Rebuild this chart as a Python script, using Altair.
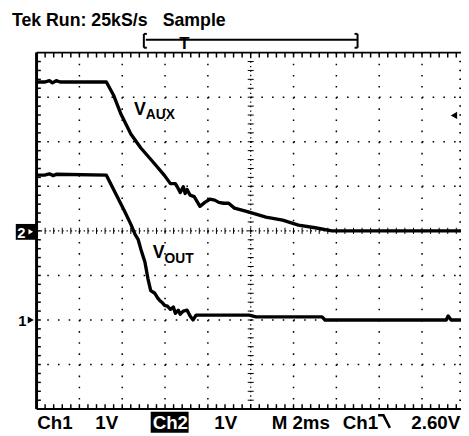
import altair as alt
import pandas as pd
import numpy as np

# ---- data (time in ms, 2 ms/div; volts, 1 V/div) ----
vaux_t = [0, 0.37, 0.60, 0.74, 0.92, 1.10, 3.26, 3.59, 3.95, 4.41, 4.87, 5.52, 5.98, 6.25, 6.48, 6.57,
          6.71, 6.85, 6.94, 7.03, 7.17, 7.36, 7.63, 7.86, 8.09, 8.32, 8.51, 8.74, 8.97, 9.24, 9.93,
          10.71, 11.49, 12.23, 13.01, 13.79, 19.82]
vaux_v = [3.34, 3.34, 3.37, 3.32, 3.37, 3.34, 3.34, 3.05, 2.61, 2.17, 1.86, 1.50, 1.24, 1.06, 1.06, 0.99,
          0.86, 0.99, 0.84, 0.93, 0.80, 0.77, 0.55, 0.64, 0.71, 0.69, 0.64, 0.62, 0.62, 0.51, 0.42,
          0.31, 0.24, 0.13, 0.07, 0.0, 0.0]
vout_t = [0, 0.37, 0.60, 0.78, 0.92, 3.26, 3.68, 4.14, 4.41, 4.60, 4.74, 4.87, 5.06, 5.20, 5.33,
          5.52, 5.66, 5.75, 5.89, 5.98, 6.11, 6.25, 6.39, 6.48, 6.62, 6.71, 6.85, 7.03, 7.17, 7.31,
          7.45, 9.93, 10.25, 13.33, 13.47, 19.13, 19.22, 19.36, 19.82]
vout_v = [3.25, 3.25, 3.28, 3.24, 3.27, 3.25, 2.85, 2.41, 2.14, 1.92, 1.81, 1.59, 1.30, 0.93, 0.66,
          0.60, 0.49, 0.44, 0.38, 0.33, 0.31, 0.24, 0.29, 0.15, 0.22, 0.13, 0.20, 0.22, 0.09, 0.0,
          0.11, 0.11, 0.07, 0.07, 0.0, 0.0, 0.09, 0.0, 0.0]
CH1_OFFSET = -2.0   # Ch1 ground marker (divisions)
CH2_OFFSET = 0.0    # Ch2 ground marker (divisions)

XMAX = 19.82
XS = alt.Scale(domain=[0, XMAX], nice=False, zero=False)
YS = alt.Scale(domain=[-4, 4], nice=False, zero=False)
FONT = "Liberation Sans"

traces = pd.concat([
    pd.DataFrame({"series": "VAUX", "t": vaux_t, "y": np.array(vaux_v) + CH2_OFFSET}),
    pd.DataFrame({"series": "VOUT", "t": vout_t, "y": np.array(vout_v) + CH1_OFFSET}),
])


def rules(df, **kw):
    return alt.Chart(df).mark_rule(color="black", **kw).encode(
        x=alt.X("x:Q", scale=XS, axis=None), x2="x2:Q",
        y=alt.Y("y:Q", scale=YS, axis=None), y2="y2:Q")


def seg(rows):
    return pd.DataFrame(rows, columns=["x", "x2", "y", "y2"])


# grid
gx = [2, 4, 6, 8, 12, 14, 16, 18]
gy = [3, 2, 1, -1, -2, -3]
grid_v = rules(seg([[g, g, 4, -4] for g in gx]), strokeDash=[1.6, 9.71], strokeWidth=1.5)
grid_h = rules(seg([[0, XMAX, g, g] for g in gy]), strokeDash=[1.6, 9.27], strokeWidth=1.5)
center_v = rules(seg([[10, 10, 4, -4]]), strokeDash=[1.3, 3.22], strokeWidth=1.3)
center_h = rules(seg([[0, XMAX, 0, 0]]), strokeDash=[1.3, 3.05], strokeWidth=1.3)
minor_x = np.arange(0.4, XMAX, 0.4)
minor_y = np.arange(-3.8, 4.0, 0.2)
center_ticks = rules(seg([[m, m, 0.07, -0.07] for m in minor_x] +
                         [[10 - 0.14, 10 + 0.14, m, m] for m in minor_y]), strokeWidth=1)
border = rules(seg([[0, 0, 4, -4]]), strokeWidth=3)
border_tb = rules(seg([[0, XMAX, 4, 4], [0, XMAX, -4, -4]]), strokeWidth=2)
border_ticks = rules(seg([[0, 0.2, m, m] for m in minor_y] +
                         [[m, m, 4, 3.89] for m in minor_x] +
                         [[m, m, -4, -3.89] for m in minor_x] +
                         [[19.74, XMAX, m, m] for m in minor_y]), strokeWidth=1.5)

lines = alt.Chart(traces).mark_line(color="black", strokeWidth=3.4, strokeJoin="round").encode(
    x=alt.X("t:Q", scale=XS, axis=None), y=alt.Y("y:Q", scale=YS, axis=None), detail="series:N")

# bracket on top
bracket = rules(seg([[5.10, 14.99, 4.29, 4.29],
                     [5.01, 5.01, 4.42, 4.11], [14.99, 14.99, 4.42, 4.11],
                     [5.01, 5.15, 4.42, 4.42], [5.01, 5.15, 4.11, 4.11],
                     [14.85, 14.99, 4.42, 4.42], [14.85, 14.99, 4.11, 4.11]]),
                strokeWidth=2)

# black boxes
boxes = alt.Chart(pd.DataFrame({"x": [-0.97, 5.33], "x2": [0, 7.10],
                                "y": [0.155, -4.06], "y2": [-0.2, -4.53]})).mark_rect(color="black").encode(
    x=alt.X("x:Q", scale=XS, axis=None), x2="x2:Q",
    y=alt.Y("y:Q", scale=YS, axis=None), y2="y2:Q")

labels = pd.DataFrame([
    ["Tek Run: 25kS/s", -1.15, 4.60, 18, "black"],
    ["Sample", 5.89, 4.60, 18, "black"],
    ["T", 6.66, 4.08, 17, "black"],
    ["Ch1", 0.03, -4.44, 19, "black"],
    ["1V", 2.74, -4.44, 19, "black"],
    ["Ch2", 5.42, -4.44, 19, "white"],
    ["1V", 8.30, -4.44, 19, "black"],
    ["M 2ms", 10.98, -4.44, 19, "black"],
    ["Ch1", 14.30, -4.44, 19, "black"],
    ["2.60V", 17.50, -4.44, 19, "black"],
    ["V", 4.55, 2.61, 18, "black"],
    ["AUX", 5.10, 2.50, 14, "black"],
    ["V", 5.43, -0.62, 18, "black"],
    ["OUT", 5.98, -0.73, 14, "black"],
    ["2", -0.90, -0.16, 15, "white"],
    ["1", -0.86, -2.14, 15, "black"],
], columns=["text", "x", "y", "size", "color"])

texts = alt.Chart(labels).mark_text(align="left", baseline="alphabetic", font=FONT,
                                    fontWeight="bold").encode(
    x=alt.X("x:Q", scale=XS, axis=None), y=alt.Y("y:Q", scale=YS, axis=None),
    text="text:N", size=alt.Size("size:Q", scale=None), color=alt.Color("color:N", scale=None))

markers = pd.DataFrame([
    [-0.27, -0.02, "triangle-right", "white", 30],
    [-0.27, -2.0, "triangle-right", "black", 50],
    [19.49, 2.59, "triangle-left", "black", 55],
], columns=["x", "y", "shape", "color", "size"])
points = alt.Chart(markers).mark_point(filled=True, opacity=1).encode(
    x=alt.X("x:Q", scale=XS, axis=None), y=alt.Y("y:Q", scale=YS, axis=None),
    shape=alt.Shape("shape:N", scale=None), color=alt.Color("color:N", scale=None),
    size=alt.Size("size:Q", scale=None))

edge = alt.Chart(pd.DataFrame({"x": [15.95, 16.20, 16.50], "y": [-4.14, -4.14, -4.42],
                               "o": [0, 1, 2]})).mark_line(color="black", strokeWidth=2.5).encode(
    x=alt.X("x:Q", scale=XS, axis=None), y=alt.Y("y:Q", scale=YS, axis=None), order="o:Q")

chart = alt.layer(grid_v, grid_h, center_v, center_h, center_ticks, border, border_tb, border_ticks,
                  lines, bracket, boxes, texts, points, edge).properties(
    width=431, height=362,
    padding={"left": 29, "top": 42, "right": 0, "bottom": 24},
    autosize=alt.AutoSizeParams(type="none"),
    background="white",
).configure_view(stroke=None)

chart.save("out.html", embed_options={"renderer": "svg", "actions": False})
